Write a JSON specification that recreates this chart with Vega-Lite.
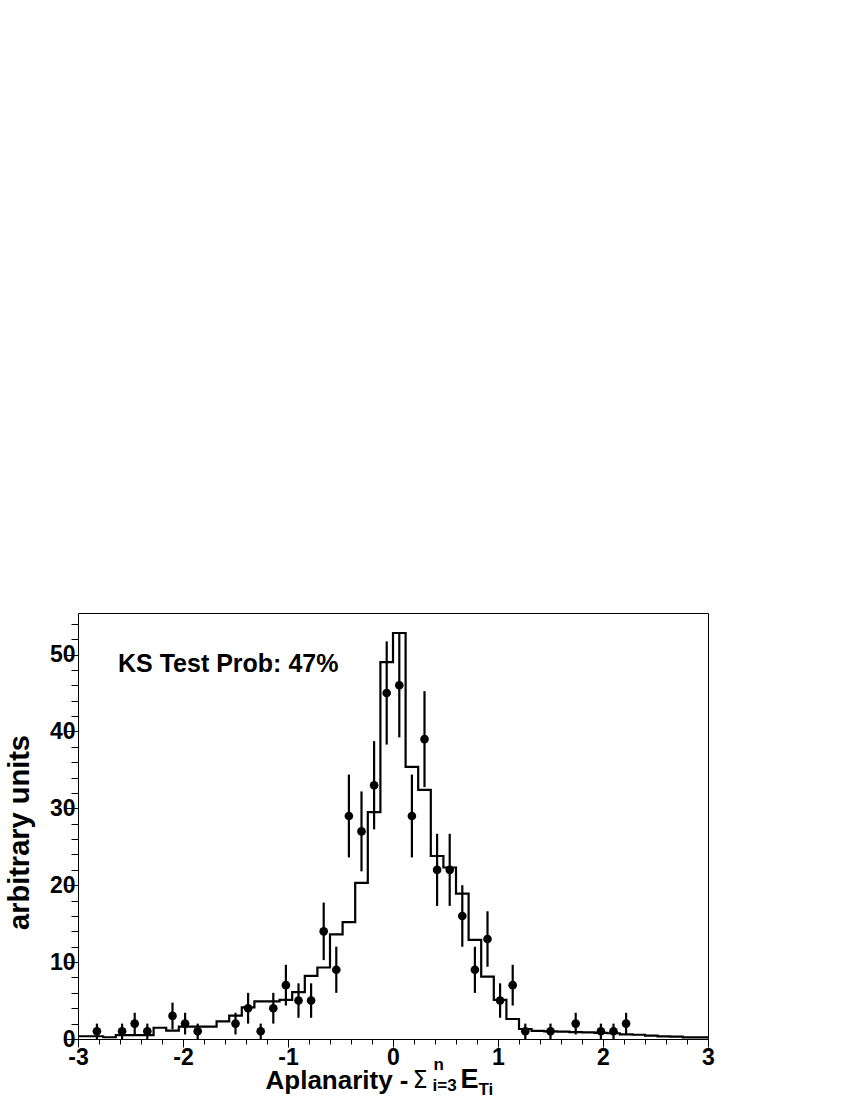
{
  "$schema": "https://vega.github.io/schema/vega-lite/v6.json",
  "width": 630,
  "height": 426,
  "autosize": {"type": "none"},
  "padding": {"left": 78, "top": 613, "right": 142, "bottom": 61},
  "background": "white",
  "config": {
    "view": {"stroke": "black", "strokeWidth": 1},
    "axis": {"grid": false, "domain": false, "labelFont": "Liberation Sans", "titleFont": "Liberation Sans", "tickColor": "black", "labelColor": "black", "titleColor": "black", "tickWidth": 1}
  },
  "datasets": {
    "mc": [
      {"lo": -3, "mc": 0.36}, {"lo": -2.88, "mc": 0.36}, {"lo": -2.76, "mc": 0.23}, {"lo": -2.64, "mc": 0.5},
      {"lo": -2.52, "mc": 0.5}, {"lo": -2.4, "mc": 0.5}, {"lo": -2.28, "mc": 1.46}, {"lo": -2.16, "mc": 1.1},
      {"lo": -2.04, "mc": 1.6}, {"lo": -1.92, "mc": 1.6}, {"lo": -1.8, "mc": 1.6}, {"lo": -1.68, "mc": 2.3},
      {"lo": -1.56, "mc": 3.05}, {"lo": -1.44, "mc": 4.1}, {"lo": -1.32, "mc": 4.9}, {"lo": -1.2, "mc": 4.9},
      {"lo": -1.08, "mc": 5.1}, {"lo": -0.96, "mc": 6.1}, {"lo": -0.84, "mc": 8.2}, {"lo": -0.72, "mc": 9.3},
      {"lo": -0.6, "mc": 13.6}, {"lo": -0.48, "mc": 15.2}, {"lo": -0.36, "mc": 20.3}, {"lo": -0.24, "mc": 29.5},
      {"lo": -0.12, "mc": 49.0}, {"lo": 0, "mc": 52.8}, {"lo": 0.12, "mc": 35.4}, {"lo": 0.24, "mc": 32.4},
      {"lo": 0.36, "mc": 23.8}, {"lo": 0.48, "mc": 22.3}, {"lo": 0.6, "mc": 18.9}, {"lo": 0.72, "mc": 12.9},
      {"lo": 0.84, "mc": 8.1}, {"lo": 0.96, "mc": 5.1}, {"lo": 1.08, "mc": 2.6}, {"lo": 1.2, "mc": 1.3},
      {"lo": 1.32, "mc": 1.05}, {"lo": 1.44, "mc": 1.0}, {"lo": 1.56, "mc": 0.95}, {"lo": 1.68, "mc": 0.9},
      {"lo": 1.8, "mc": 0.85}, {"lo": 1.92, "mc": 0.8}, {"lo": 2.04, "mc": 0.75}, {"lo": 2.16, "mc": 0.6},
      {"lo": 2.28, "mc": 0.55}, {"lo": 2.4, "mc": 0.45}, {"lo": 2.52, "mc": 0.35}, {"lo": 2.64, "mc": 0.3},
      {"lo": 2.76, "mc": 0.22}, {"lo": 2.88, "mc": 0.2}, {"lo": 3, "mc": 0.2}
    ],
    "pts": [
      {"x": -2.82, "n": 1, "lo": 0, "hi": 2}, {"x": -2.58, "n": 1, "lo": 0, "hi": 2},
      {"x": -2.46, "n": 2, "lo": 0.59, "hi": 3.41}, {"x": -2.34, "n": 1, "lo": 0, "hi": 2},
      {"x": -2.1, "n": 3, "lo": 1.27, "hi": 4.73}, {"x": -1.98, "n": 2, "lo": 0.59, "hi": 3.41},
      {"x": -1.86, "n": 1, "lo": 0, "hi": 2}, {"x": -1.5, "n": 2, "lo": 0.59, "hi": 3.41},
      {"x": -1.38, "n": 4, "lo": 2, "hi": 6}, {"x": -1.26, "n": 1, "lo": 0, "hi": 2},
      {"x": -1.14, "n": 4, "lo": 2, "hi": 6}, {"x": -1.02, "n": 7, "lo": 4.35, "hi": 9.65},
      {"x": -0.9, "n": 5, "lo": 2.76, "hi": 7.24}, {"x": -0.78, "n": 5, "lo": 2.76, "hi": 7.24},
      {"x": -0.66, "n": 14, "lo": 10.26, "hi": 17.74}, {"x": -0.54, "n": 9, "lo": 6, "hi": 12},
      {"x": -0.42, "n": 29, "lo": 23.61, "hi": 34.39}, {"x": -0.3, "n": 27, "lo": 21.8, "hi": 32.2},
      {"x": -0.18, "n": 33, "lo": 27.26, "hi": 38.74}, {"x": -0.06, "n": 45, "lo": 38.29, "hi": 51.71},
      {"x": 0.06, "n": 46, "lo": 39.22, "hi": 52.78}, {"x": 0.18, "n": 29, "lo": 23.61, "hi": 34.39},
      {"x": 0.3, "n": 39, "lo": 32.76, "hi": 45.24}, {"x": 0.42, "n": 22, "lo": 17.31, "hi": 26.69},
      {"x": 0.54, "n": 22, "lo": 17.31, "hi": 26.69}, {"x": 0.66, "n": 16, "lo": 12, "hi": 20},
      {"x": 0.78, "n": 9, "lo": 6, "hi": 12}, {"x": 0.9, "n": 13, "lo": 9.39, "hi": 16.61},
      {"x": 1.02, "n": 5, "lo": 2.76, "hi": 7.24}, {"x": 1.14, "n": 7, "lo": 4.35, "hi": 9.65},
      {"x": 1.26, "n": 1, "lo": 0, "hi": 2}, {"x": 1.5, "n": 1, "lo": 0, "hi": 2},
      {"x": 1.74, "n": 2, "lo": 0.59, "hi": 3.41}, {"x": 1.98, "n": 1, "lo": 0, "hi": 2},
      {"x": 2.1, "n": 1, "lo": 0, "hi": 2}, {"x": 2.22, "n": 2, "lo": 0.59, "hi": 3.41}
    ]
  },
  "layer": [
    {
      "data": {"name": "mc"},
      "mark": {"type": "line", "interpolate": "step-after", "color": "black", "strokeWidth": 2.2},
      "encoding": {
        "x": {
          "field": "lo", "type": "quantitative",
          "scale": {"domain": [-3, 3], "nice": false, "zero": false},
          "axis": {"orient": "bottom", "values": [-3, -2, -1, 0, 1, 2, 3], "tickSize": 8, "labelPadding": -1,
            "labelExpr": "'' + datum.value",
            "labelFontSize": 23, "labelFontWeight": "bold", "labelFlush": false, "labelOverlap": false,
            "labelBaseline": "top", "labelAlign": "center",
            "title": "Aplanarity -", "titleFontSize": 26, "titleFontWeight": "bold",
            "titleX": 187, "titleY": 49, "titleAlign": "left", "titleBaseline": "alphabetic"}
        },
        "y": {
          "field": "mc", "type": "quantitative",
          "scale": {"domain": [0, 55.4], "nice": false, "zero": false},
          "axis": {"orient": "left", "values": [0, 10, 20, 30, 40, 50], "tickSize": 12, "labelPadding": -9,
            "labelFontSize": 23, "labelFontWeight": "bold", "labelAlign": "right", "labelBaseline": "middle",
            "labelFlush": false, "labelOverlap": false,
            "title": "arbitrary units", "titleFontSize": 29, "titleFontWeight": "bold", "titleAngle": -90,
            "titleX": -50, "titleY": 219, "titleAlign": "center", "titleBaseline": "alphabetic"}
        }
      }
    },
    {
      "data": {"name": "pts"},
      "mark": {"type": "rule", "color": "black", "strokeWidth": 2.2},
      "encoding": {
        "x": {
          "field": "x", "type": "quantitative",
          "axis": {"orient": "bottom", "values": [-2.8, -2.6, -2.4, -2.2, -1.8, -1.6, -1.4, -1.2, -0.8, -0.6, -0.4, -0.2, 0.2, 0.4, 0.6, 0.8, 1.2, 1.4, 1.6, 1.8, 2.2, 2.4, 2.6, 2.8],
            "tickSize": 5, "labels": false,
            "title": "Σ", "titleFont": "DejaVu Sans", "titleFontSize": 24, "titleFontWeight": "normal",
            "titleX": 334, "titleY": 48, "titleAlign": "left", "titleBaseline": "alphabetic"}
        },
        "y": {
          "field": "lo", "type": "quantitative",
          "axis": {"orient": "left", "values": [2, 4, 6, 8, 12, 14, 16, 18, 22, 24, 26, 28, 32, 34, 36, 38, 42, 44, 46, 48, 52, 54],
            "tickSize": 7, "labels": false,
            "title": "n", "titleFontSize": 17, "titleFontWeight": "bold", "titleAngle": 0,
            "titleX": 355, "titleY": 456, "titleAlign": "left", "titleBaseline": "alphabetic"}
        },
        "y2": {"field": "hi"}
      }
    },
    {
      "data": {"name": "pts"},
      "mark": {"type": "point", "filled": true, "color": "black", "size": 75, "opacity": 1},
      "encoding": {
        "x": {
          "field": "x", "type": "quantitative",
          "axis": {"orient": "bottom", "ticks": false, "labels": false,
            "title": "i=3", "titleFontSize": 17, "titleFontWeight": "bold",
            "titleX": 354, "titleY": 51, "titleAlign": "left", "titleBaseline": "alphabetic"}
        },
        "y": {
          "field": "n", "type": "quantitative",
          "axis": {"orient": "left", "ticks": false, "labels": false,
            "title": "E", "titleFontSize": 27, "titleFontWeight": "bold", "titleAngle": 0,
            "titleX": 382, "titleY": 474, "titleAlign": "left", "titleBaseline": "alphabetic"}
        }
      }
    },
    {
      "data": {"values": [{}]},
      "mark": {"type": "text", "text": "KS Test Prob: 47%", "font": "Liberation Sans", "fontSize": 25, "fontWeight": "bold", "align": "left", "baseline": "alphabetic", "color": "black"},
      "encoding": {
        "x": {
          "datum": -2.619, "type": "quantitative",
          "axis": {"orient": "bottom", "ticks": false, "labels": false,
            "title": "Ti", "titleFontSize": 17, "titleFontWeight": "bold",
            "titleX": 400, "titleY": 55, "titleAlign": "left", "titleBaseline": "alphabetic"}
        },
        "y": {"datum": 47.7, "type": "quantitative", "axis": null}
      }
    }
  ],
  "resolve": {"axis": {"x": "independent", "y": "independent"}}
}
